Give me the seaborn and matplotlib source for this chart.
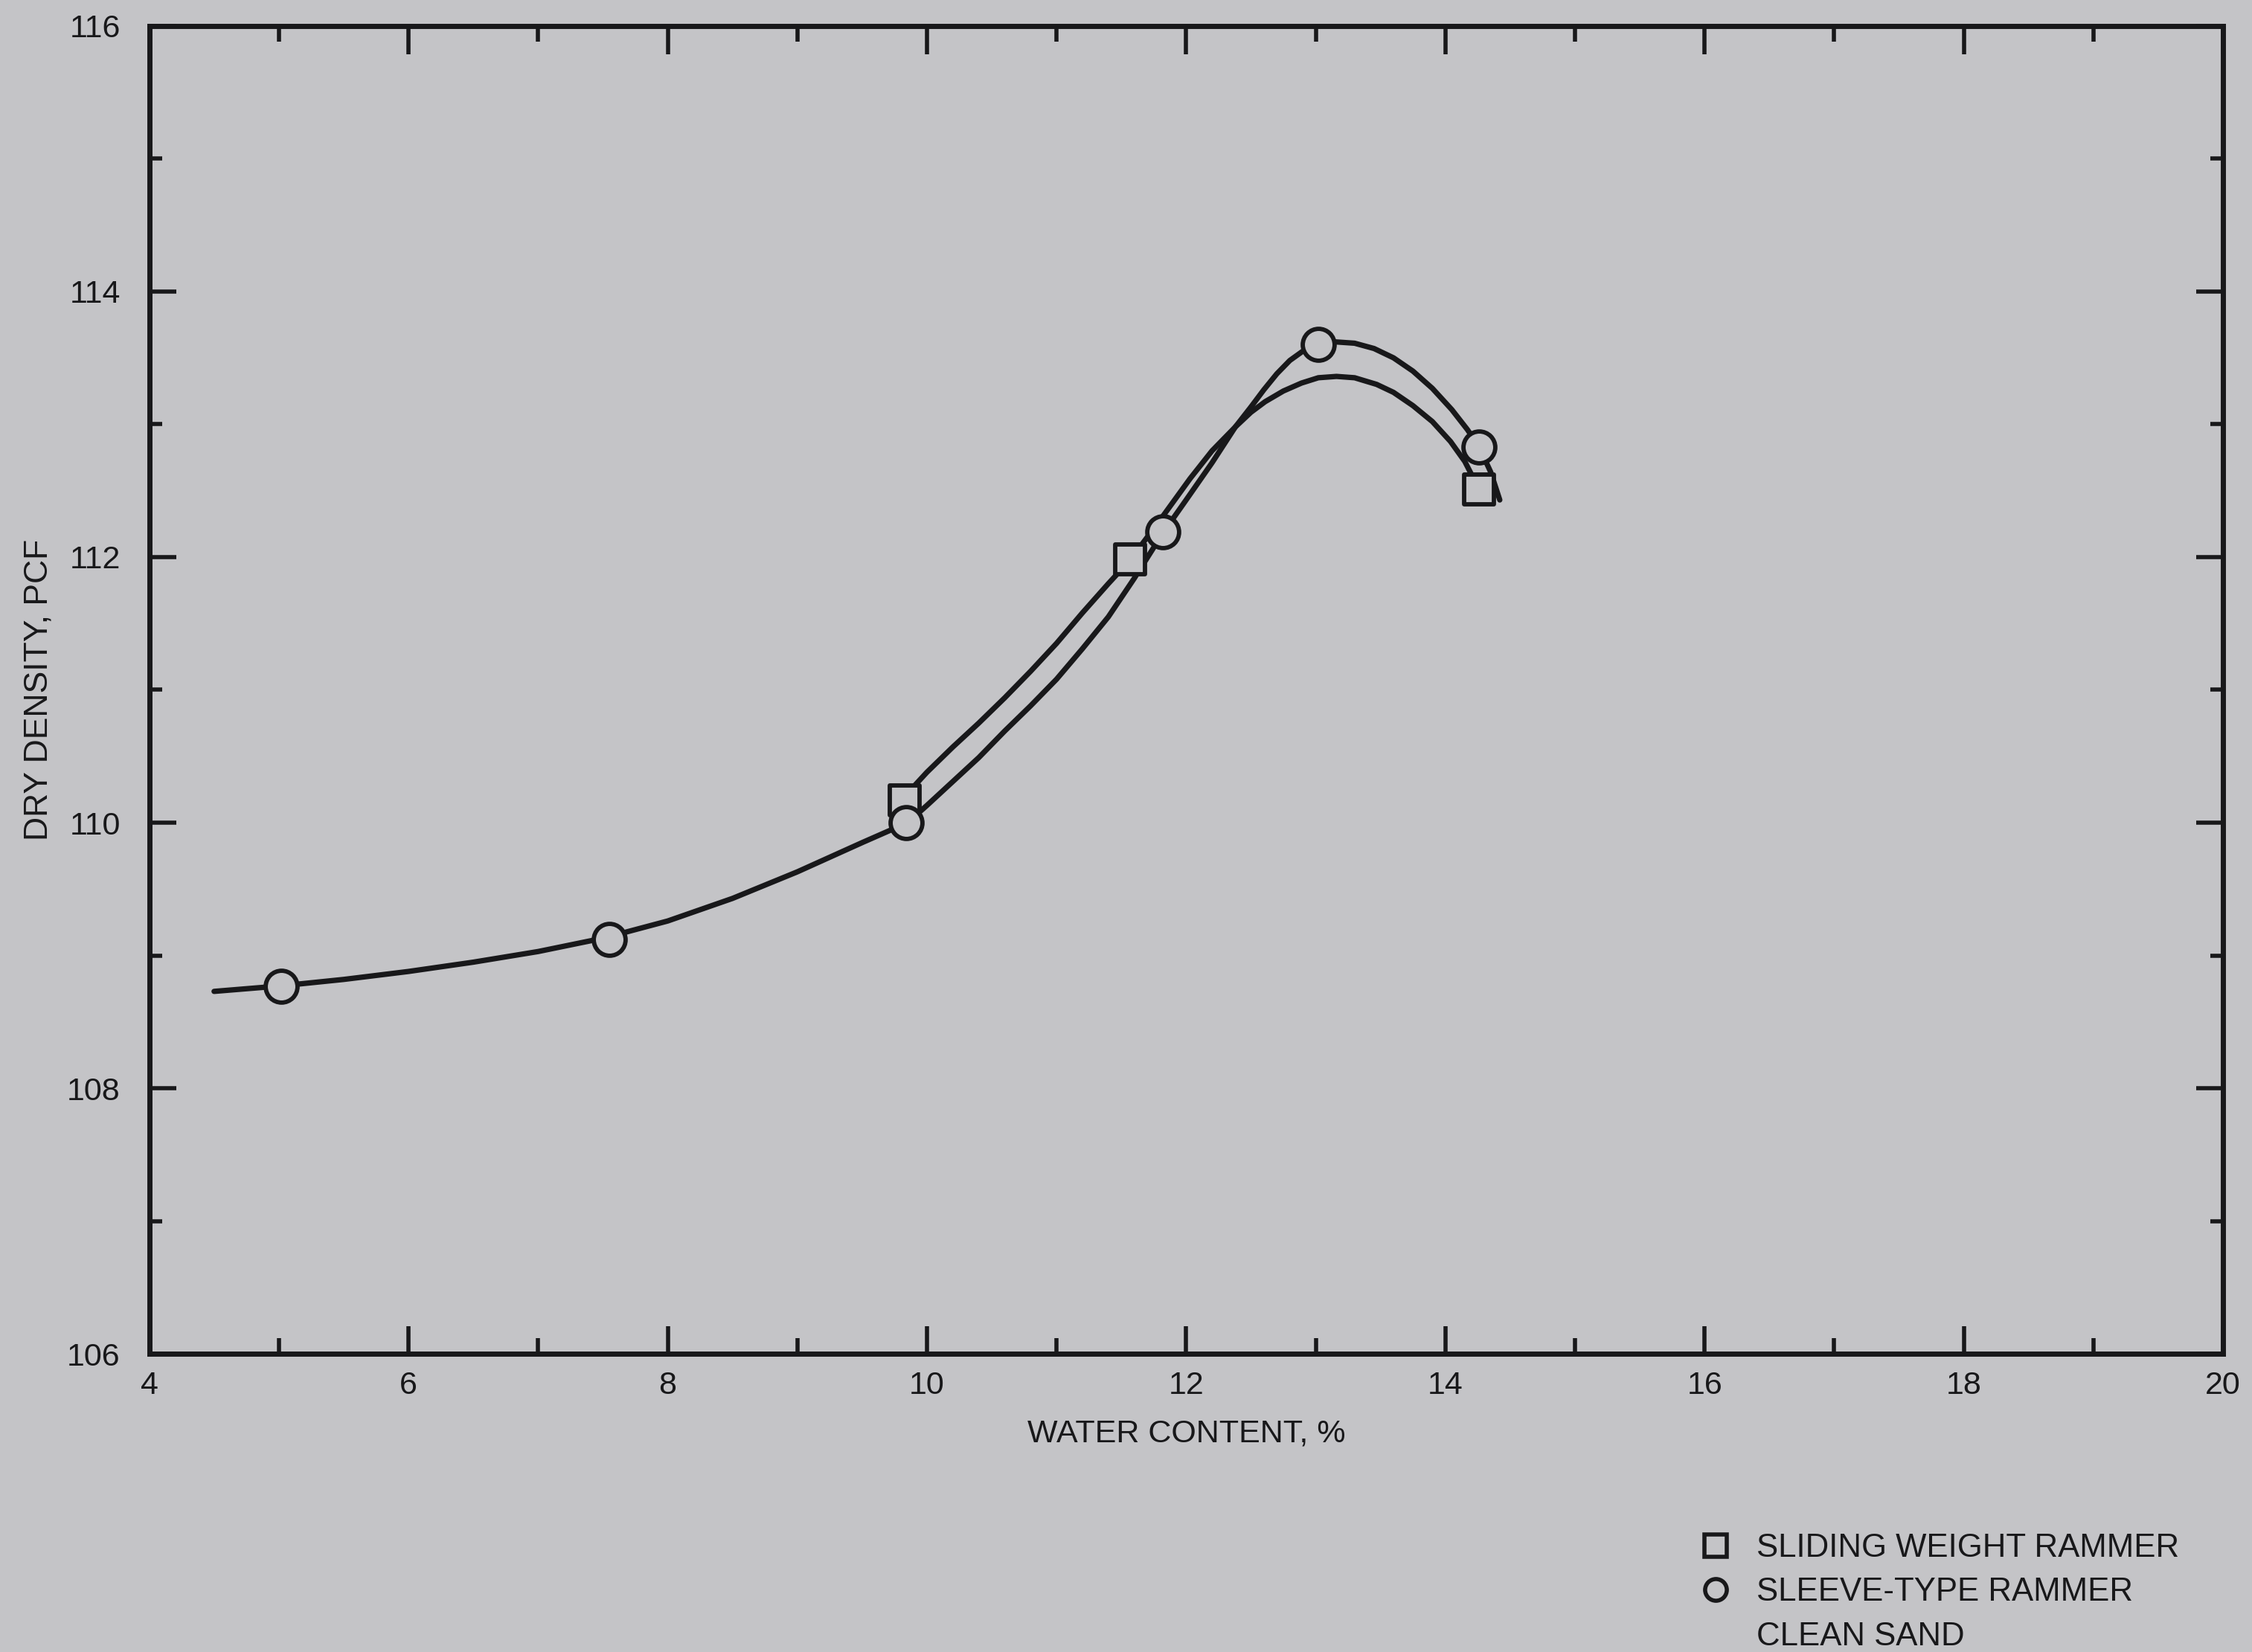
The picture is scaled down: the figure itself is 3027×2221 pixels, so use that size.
import numpy as np
import pandas as pd
import matplotlib
matplotlib.use('Agg')
import matplotlib.pyplot as plt
from matplotlib.lines import Line2D
import seaborn as sns

sliding_x = [9.83, 11.57, 14.26]
sliding_y = [110.17, 111.98, 112.51]
sleeve_x = [5.02, 7.55, 9.84, 11.82, 13.02, 14.26]
sleeve_y = [108.77, 109.12, 110.0, 112.19, 113.6, 112.83]

# hand-drawn fitted curves
sleeve_curve_x = [4.5, 5.0, 5.5, 6.0, 6.5, 7.0, 7.5, 8.0, 8.5, 9.0, 9.5, 9.85,
                  10.0, 10.2, 10.4, 10.6, 10.8, 11.0, 11.2, 11.4, 11.6, 11.82,
                  12.0, 12.2, 12.38, 12.5, 12.6, 12.7, 12.8, 12.9, 13.02, 13.15,
                  13.3, 13.45, 13.6, 13.75, 13.9, 14.05, 14.17, 14.26, 14.35, 14.42]
sleeve_curve_y = [108.73, 108.77, 108.82, 108.88, 108.95, 109.03, 109.13, 109.26,
                  109.43, 109.63, 109.85, 110.0, 110.13, 110.31, 110.49, 110.69,
                  110.88, 111.08, 111.31, 111.55, 111.84, 112.18, 112.43, 112.71,
                  112.98, 113.13, 113.26, 113.38, 113.48, 113.55, 113.60, 113.62,
                  113.61, 113.57, 113.50, 113.40, 113.27, 113.11, 112.96, 112.83,
                  112.64, 112.43]
sliding_curve_x = [9.83, 10.0, 10.2, 10.4, 10.6, 10.8, 11.0, 11.2, 11.4, 11.57,
                   11.8, 12.03, 12.2, 12.38, 12.5, 12.61, 12.75, 12.89, 13.02,
                   13.16, 13.3, 13.47, 13.6, 13.75, 13.9, 14.04, 14.15, 14.25]
sliding_curve_y = [110.20, 110.38, 110.57, 110.75, 110.94, 111.14, 111.35, 111.58,
                   111.80, 111.98, 112.28, 112.59, 112.80, 112.98, 113.09, 113.17,
                   113.25, 113.31, 113.35, 113.36, 113.35, 113.30, 113.24, 113.14,
                   113.02, 112.87, 112.72, 112.53]

x_ticks = [4, 6, 8, 10, 12, 14, 16, 18, 20]
y_ticks = [106, 108, 110, 112, 114, 116]
legend_labels = ['SLIDING WEIGHT RAMMER', 'SLEEVE-TYPE RAMMER', 'CLEAN SAND']

bg = '#c4c4c7'
ink = '#18181a'

sns.set_theme(style='ticks')
plt.rcParams['font.family'] = ['Liberation Sans', 'DejaVu Sans']
plt.rcParams['text.color'] = ink

curves = pd.concat([
    pd.DataFrame({'w': sleeve_curve_x, 'd': sleeve_curve_y, 'method': 'sleeve'}),
    pd.DataFrame({'w': sliding_curve_x, 'd': sliding_curve_y, 'method': 'sliding'}),
])

fig = plt.figure(figsize=(30.27, 22.21), dpi=100, facecolor=bg)
ax = fig.add_axes([0.0663, 0.1804, 0.9208, 0.804])
ax.set_facecolor(bg)

sns.lineplot(data=curves, x='w', y='d', hue='method', palette=[ink, ink],
             estimator=None, sort=False, linewidth=5.2, legend=False, ax=ax, zorder=2)
ax.lines[0].set_solid_joinstyle('round')
ax.lines[1].set_solid_joinstyle('round')
sns.scatterplot(x=sliding_x, y=sliding_y, marker='s', s=800, facecolor=bg,
                edgecolor=ink, linewidth=4.2, ax=ax, zorder=3)
sns.scatterplot(x=sleeve_x, y=sleeve_y, marker='o', s=950, facecolor=bg,
                edgecolor=ink, linewidth=4.2, ax=ax, zorder=4)

ax.set_xlim(4, 20)
ax.set_ylim(106, 116)
ax.set_xticks(x_ticks)
ax.set_xticks(range(5, 20, 2), minor=True)
ax.set_yticks(y_ticks)
ax.set_yticks(range(107, 116, 2), minor=True)
ax.tick_params(which='both', direction='in', top=True, right=True,
               width=4, color=ink, labelcolor=ink)
ax.tick_params(axis='x', which='major', length=27, pad=16, labelsize=31)
ax.tick_params(axis='x', which='minor', length=15)
ax.tick_params(axis='y', which='major', length=26, pad=28, labelsize=31)
ax.tick_params(axis='y', which='minor', length=12)
for sp in ax.spines.values():
    sp.set_linewidth(5)
    sp.set_color(ink)

ax.set_xlabel('WATER CONTENT, %', fontsize=31, color=ink)
ax.set_ylabel('DRY DENSITY, PCF', fontsize=32, color=ink)
ax.xaxis.set_label_coords(0.5, -0.049)
ax.yaxis.set_label_coords(-0.046, 0.5)

handles = [
    Line2D([], [], linestyle='none', marker='s', markersize=21, markerfacecolor=bg,
           markeredgecolor=ink, markeredgewidth=4),
    Line2D([], [], linestyle='none', marker='o', markersize=21, markerfacecolor=bg,
           markeredgecolor=ink, markeredgewidth=4),
    Line2D([], [], linestyle='none'),
]
fig.legend(handles, legend_labels, loc='upper left', bbox_to_anchor=(0.756, 0.072),
           frameon=False, fontsize=31.5, handlelength=0.8, handletextpad=0.85,
           labelspacing=0.42, borderpad=0, borderaxespad=0)

plt.savefig('out.png', dpi=100, facecolor=bg)
